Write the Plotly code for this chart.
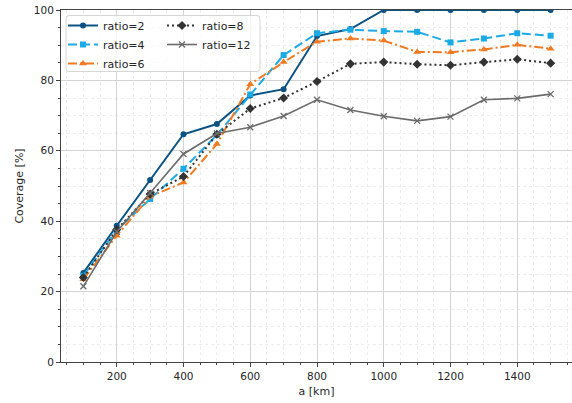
import plotly.graph_objects as go

# Orbit altitude a [km]
altitude_km = [100, 200, 300, 400, 500, 600, 700, 800, 900, 1000, 1100, 1200, 1300, 1400, 1500]

# Coverage [%] for each ratio
cov_ratio2 = [25.3, 38.7, 51.7, 64.7, 67.6, 75.7, 77.5, 92.6, 94.6, 100, 100, 100, 100, 100, 100]
cov_ratio4 = [24.5, 37.5, 46.3, 54.9, 64.5, 76.0, 87.2, 93.4, 94.4, 94.0, 93.8, 90.8, 91.9, 93.4, 92.7]
cov_ratio6 = [23.5, 35.9, 47.0, 51.0, 61.9, 78.9, 85.2, 91.0, 91.9, 91.3, 88.1, 88.0, 88.8, 90.1, 89.0]
cov_ratio8 = [24.0, 37.6, 47.7, 52.7, 64.7, 72.0, 75.0, 79.7, 84.7, 85.2, 84.6, 84.3, 85.2, 86.0, 84.9]
cov_ratio12 = [21.5, 37.0, 48.0, 59.1, 64.9, 66.7, 69.9, 74.5, 71.6, 69.8, 68.5, 69.7, 74.5, 74.9, 76.1]

series = [
    dict(name="ratio=2", y=cov_ratio2, color="#0b5283", dash="solid", symbol="circle", size=6, width=2, legend="legend"),
    dict(name="ratio=4", y=cov_ratio4, color="#1caae6", dash="9px,4px", symbol="square", size=6, width=2, legend="legend"),
    dict(name="ratio=6", y=cov_ratio6, color="#f07a22", dash="9px,3px,2px,3px", symbol="triangle-up", size=7, width=2, legend="legend"),
    dict(name="ratio=8", y=cov_ratio8, color="#333333", dash="2px,3px", symbol="diamond", size=7, width=2, legend="legend2"),
    dict(name="ratio=12", y=cov_ratio12, color="#6b6b6b", dash="solid", symbol="x-thin-open", size=6, width=1.6, legend="legend2"),
]

fig = go.Figure()
for s in series:
    marker = dict(symbol=s["symbol"], size=s["size"], color=s["color"])
    if s["symbol"] == "x-thin-open":
        marker["line"] = dict(color=s["color"], width=1.3)
    fig.add_trace(go.Scatter(
        x=altitude_km, y=s["y"], name=s["name"], mode="lines+markers",
        line=dict(color=s["color"], width=s["width"], dash=s["dash"]),
        marker=marker, legend=s["legend"],
    ))

W, H = 572, 403
ML, MT, MB, MR = 61, 10, 41, 0
pw, ph = W - ML - MR, H - MT - MB


def px_to_paper(px, py):
    return (px - ML) / pw, (H - MB - py) / ph


# rounded legend frame (pixel corners converted to paper coords)
x0, y0, x1, y1, r = 66, 15.5, 260, 71.5, 3
def P(px, py):
    a, b = px_to_paper(px, py)
    return f"{a:.5f},{b:.5f}"

frame_path = (
    f"M {P(x0 + r, y0)} L {P(x1 - r, y0)} Q {P(x1, y0)} {P(x1, y0 + r)} "
    f"L {P(x1, y1 - r)} Q {P(x1, y1)} {P(x1 - r, y1)} "
    f"L {P(x0 + r, y1)} Q {P(x0, y1)} {P(x0, y1 - r)} "
    f"L {P(x0, y0 + r)} Q {P(x0, y0)} {P(x0 + r, y0)} Z"
)

font = dict(family="DejaVu Sans", size=10.5, color="#262626")
legend_common = dict(
    bgcolor="rgba(0,0,0,0)", borderwidth=0, font=dict(family="DejaVu Sans", size=11, color="#262626"),
    xanchor="left", yanchor="top", itemwidth=30, tracegroupgap=0,
)
lx1, ly1 = px_to_paper(63, 11)
lx2, ly2 = px_to_paper(162, 11)

fig.update_layout(
    width=W, height=H,
    margin=dict(l=ML, r=MR, t=MT, b=MB, pad=0),
    paper_bgcolor="white", plot_bgcolor="white",
    font=font,
    showlegend=True,
    legend=dict(x=lx1, y=ly1, **legend_common),
    legend2=dict(x=lx2, y=ly2, **legend_common),
    shapes=[dict(type="path", path=frame_path, xref="paper", yref="paper",
                 line=dict(color="#d6d6d6", width=1), fillcolor="rgba(255,255,255,0.8)",
                 layer="above")],
    xaxis=dict(
        range=[33, 1564], tickmode="linear", tick0=0, dtick=200,
        showline=True, linecolor="#444444", linewidth=1, mirror=True,
        ticks="outside", ticklen=4, tickcolor="#444444", tickwidth=1,
        showgrid=True, gridcolor="#d4d4d4", gridwidth=1, zeroline=False,
        minor=dict(tick0=0, dtick=50, ticks="outside", ticklen=2, tickcolor="#444444",
                   showgrid=True, gridcolor="#ececec", griddash="dot", gridwidth=1),
        title=dict(text="a [km]", font=dict(family="DejaVu Sans", size=11, color="#262626"), standoff=6),
        tickfont=font,
    ),
    yaxis=dict(
        range=[0, 100], tickmode="linear", tick0=0, dtick=20,
        showline=True, linecolor="#444444", linewidth=1, mirror=False,
        ticks="outside", ticklen=4, tickcolor="#444444", tickwidth=1,
        showgrid=True, gridcolor="#d4d4d4", gridwidth=1, zeroline=False,
        minor=dict(tick0=0, dtick=5, ticks="outside", ticklen=2, tickcolor="#444444",
                   showgrid=True, gridcolor="#ececec", griddash="dot", gridwidth=1),
        title=dict(text="Coverage [%]", font=dict(family="DejaVu Sans", size=11, color="#262626"), standoff=8),
        tickfont=font,
    ),
)

fig.write_html("out.html")
